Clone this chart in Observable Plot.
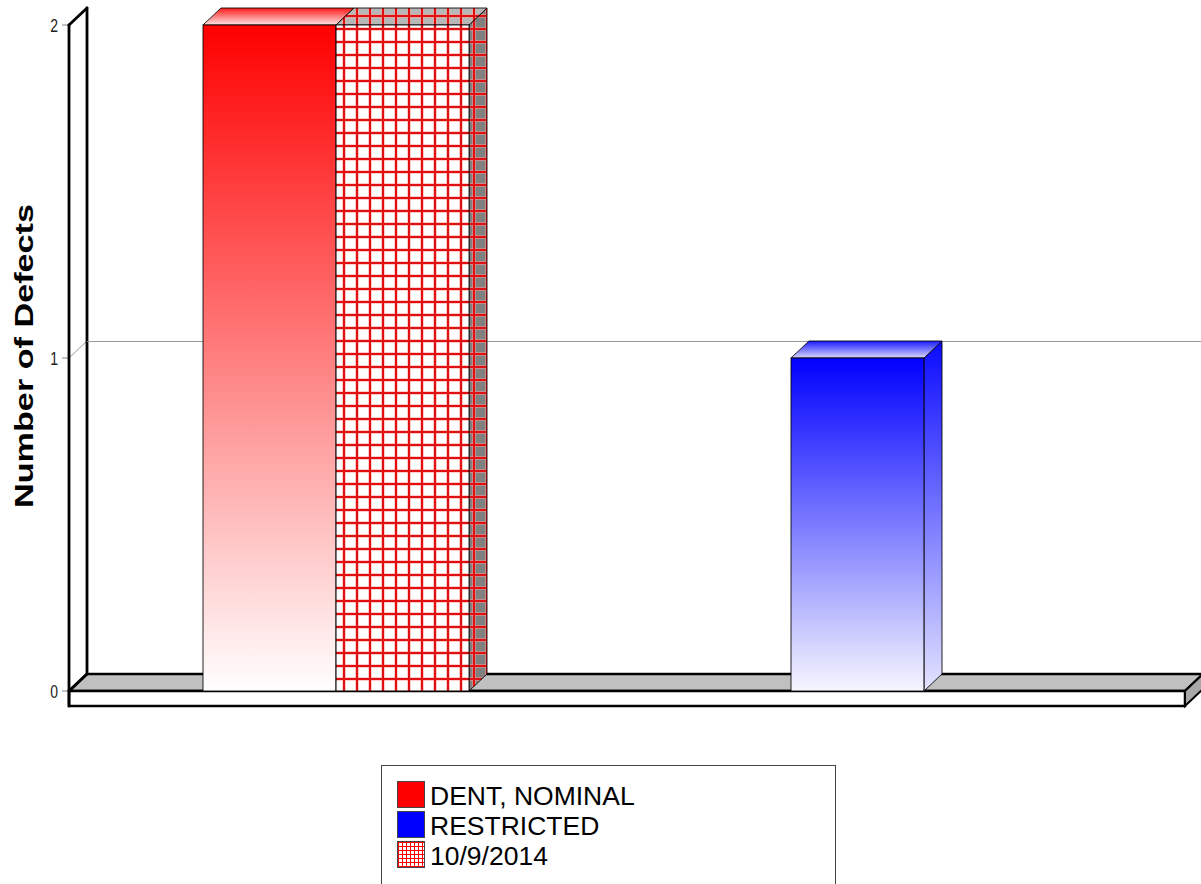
<!DOCTYPE html>
<html>
<head>
<meta charset="utf-8">
<script src="https://cdn.jsdelivr.net/npm/d3@7"></script>
<script src="https://cdn.jsdelivr.net/npm/@observablehq/plot@0.6"></script>
<style>
  html, body { margin: 0; padding: 0; background: #fff; }
  #chart svg { display: block; }
  #legend {
    position: absolute; left: 381px; top: 765px; width: 455px; height: 140px;
    border: 1px solid #444; box-sizing: border-box; background: #fff;
    font-family: "Liberation Sans", Arial, sans-serif; font-size: 26.5px; color: #000;
  }
  .item { position: absolute; left: 15px; height: 26px; }
  .sw { position: absolute; left: 0; top: 0; width: 26px; height: 25px; border: 1px solid #444; }
  .lab { position: absolute; left: 33px; top: 2px; line-height: 26px; white-space: nowrap; }
  .grid {
    background-color: #fff;
    background-image: linear-gradient(#f00 1px, transparent 1px), linear-gradient(90deg, #f00 1px, transparent 1px);
    background-size: 4px 4px;
  }
</style>
</head>
<body>
<div id="chart"></div>
<div id="legend"></div>
<script>
// ---- data ----
const categories = ["DENT, NOMINAL", "RESTRICTED"];
const countValues = [2, 1];
const dateSeriesLabel = "10/9/2014";
const dateValues = [2, 0];
const yTicks = [0, 1, 2];
const yLabel = "Number of Defects";
const legendLabels = ["DENT, NOMINAL", "RESTRICTED", "10/9/2014"];

const rows = categories.map((c, i) => ({category: c, count: countValues[i], date: dateValues[i]}));

// ---- layout / style ----
const W = 1201, H = 760, ML = 69, MR = 16, MT = 25, MB = 69;
const DX = 18, DY = -17;           // 3D depth offset
const PI_ = 0.548, PO_ = 0.2216, AL_ = 0.51;
const bandProbe = d3.scaleBand().domain(categories).range([ML, W - MR]).paddingInner(PI_).paddingOuter(PO_).align(AL_);
const half = bandProbe.bandwidth() / 2;
const yMax = d3.max(yTicks);

const NS = "http://www.w3.org/2000/svg";
function el(name, attrs, parent) {
  const e = document.createElementNS(NS, name);
  for (const k in attrs) e.setAttribute(k, attrs[k]);
  if (parent) parent.appendChild(e);
  return e;
}

// defs: gradients and patterns
function defsMark() {
  const defs = el("defs", {});
  const grad = (id, stops) => {
    const g = el("linearGradient", {id, x1: 0, y1: 0, x2: 0, y2: 1}, defs);
    stops.forEach(([o, c]) => el("stop", {offset: o, "stop-color": c}, g));
  };
  grad("gRed", [[0, "#ff0000"], [1, "#ffffff"]]);
  grad("gRedTop", [[0, "#ff1a1a"], [1, "#ffe6e6"]]);
  grad("gRedSide", [[0, "#e00000"], [1, "#ffe0e0"]]);
  grad("gBlue", [[0, "#0000ff"], [1, "#f6f6ff"]]);
  grad("gBlueTop", [[0, "#1a1aff"], [1, "#d8d8ff"]]);
  grad("gBlueSide", [[0, "#0a0aff"], [1, "#e4e4ff"]]);
  const pat = (id, bg) => {
    const p = el("pattern", {id, patternUnits: "userSpaceOnUse", x: 342, y: 690, width: 13, height: 13}, defs);
    el("rect", {x: 0, y: 0, width: 13, height: 13, fill: bg}, p);
    el("rect", {x: 0, y: 0, width: 4, height: 13, fill: "#ff9a9a", opacity: 0.5}, p);
    el("rect", {x: 0, y: 0, width: 13, height: 4, fill: "#ff9a9a", opacity: 0.5}, p);
    el("rect", {x: 1, y: 0, width: 2, height: 13, fill: "#e01010"}, p);
    el("rect", {x: 0, y: 1, width: 13, height: 2, fill: "#e01010"}, p);
  };
  pat("pFront", "#ffffff");
  pat("pSide", "#808080");
  pat("pTop", "#b8b8b8");
  return defs;
}

// walls, floor, base slab, ticks and tick labels
function wallsMark(index, scales, values, dims) {
  const y = scales.y;
  const g = el("g", {});
  const x0 = dims.marginLeft, x1 = dims.width - dims.marginRight;
  const y0 = y(0), yT = y(yMax), slab = 15;
  el("polygon", {points: `${x0},${yT} ${x0+DX},${yT+DY} ${x0+DX},${y0+DY} ${x0},${y0}`, fill: "#fff"}, g);
  yTicks.filter(t => t > 0 && t < yMax).forEach(t => {
    el("line", {x1: x0, y1: y(t), x2: x0 + DX, y2: y(t) + DY, stroke: "#999", "stroke-width": 1}, g);
  });
  const fmt = d3.format("d");
  yTicks.forEach(t => {
    el("line", {x1: x0 - 7, y1: y(t), x2: x0, y2: y(t), stroke: "#888", "stroke-width": 1}, g);
    const tx = el("text", {transform: `translate(${x0 - 11},${y(t)}) scale(1,1.35)`, "text-anchor": "end",
      dy: "0.35em", "font-family": "Liberation Sans, Arial, sans-serif", "font-size": 14, fill: "#222"}, g);
    tx.textContent = fmt(t);
  });
  el("polygon", {points: `${x0},${y0} ${x0+DX},${y0+DY} ${x1+DX},${y0+DY} ${x1},${y0}`,
    fill: "#c0c0c0", stroke: "#000", "stroke-width": 2.5, "stroke-linejoin": "round"}, g);
  el("rect", {x: x0, y: y0, width: x1 - x0, height: slab, fill: "#fff", stroke: "#000", "stroke-width": 2.5}, g);
  el("polygon", {points: `${x1},${y0} ${x1+DX},${y0+DY} ${x1+DX},${y0+DY+slab} ${x1},${y0+slab}`,
    fill: "#a8a8a8", stroke: "#000", "stroke-width": 2}, g);
  const L = (a, b, c, d) => el("line", {x1: a, y1: b, x2: c, y2: d, stroke: "#000", "stroke-width": 2.8, "stroke-linecap": "round"}, g);
  L(x0, yT, x0, y0 + slab);
  L(x0 + DX, yT + DY, x0 + DX, y0 + DY);
  L(x0, yT, x0 + DX, yT + DY);
  L(x0, y0, x0 + DX, y0 + DY);
  return g;
}

// top and side faces of bars
function facesMark(index, scales) {
  const x = scales.x, y = scales.y;
  const bw = x.bandwidth ? x.bandwidth() : half * 2;
  const h = bw / 2;
  const g = el("g", {});
  const bars = [];
  rows.forEach((r, i) => {
    const l = x(r.category);
    if (r.count > 0) bars.push({l, r: l + h, v: r.count, side: i === 0 ? "url(#gRedSide)" : "url(#gBlueSide)", top: i === 0 ? "url(#gRedTop)" : "url(#gBlueTop)"});
    if (r.date > 0) bars.push({l: l + h, r: l + bw, v: r.date, side: "url(#pSide)", top: "url(#pTop)"});
  });
  bars.sort((a, b) => a.l - b.l);
  bars.forEach(b => {
    const t = y(b.v), bo = y(0);
    el("polygon", {points: `${b.r},${t} ${b.r+DX},${t+DY} ${b.r+DX},${bo+DY} ${b.r},${bo}`,
      fill: b.side, stroke: "#000", "stroke-width": 1, "stroke-opacity": 0.85}, g);
    el("polygon", {points: `${b.l},${t} ${b.l+DX},${t+DY} ${b.r+DX},${t+DY} ${b.r},${t}`,
      fill: b.top, stroke: "#000", "stroke-width": 1, "stroke-opacity": 0.85}, g);
  });
  return g;
}

function labelMark(index, scales, values, dims) {
  const y = scales.y;
  const cy = (y(0) + y(yMax)) / 2 - 2;
  const t = el("text", {transform: `translate(33,${cy}) rotate(-90)`, "text-anchor": "middle",
    "font-family": "Liberation Sans, Arial, sans-serif", "font-weight": "bold", "font-size": 26,
    fill: "#000", textLength: 304, lengthAdjust: "spacingAndGlyphs"});
  t.textContent = yLabel;
  return t;
}

const plot = Plot.plot({
  width: W, height: H,
  marginLeft: ML, marginRight: MR, marginTop: MT, marginBottom: MB,
  style: {fontFamily: "Liberation Sans, Arial, sans-serif", color: "#222", background: "#fff"},
  x: {type: "band", domain: categories, paddingInner: PI_, paddingOuter: PO_, align: AL_, axis: null},
  y: {domain: [0, yMax], axis: null},
  color: {domain: categories, range: ["url(#gRed)", "url(#gBlue)"]},
  marks: [
    defsMark,
    wallsMark,
    Plot.ruleY(yTicks.filter(t => t > 0 && t < yMax), {dx: DX, dy: DY, stroke: "#999", strokeWidth: 1}),
    facesMark,
    Plot.barY(rows.filter(r => r.count > 0), {x: "category", y: "count", fill: "category", insetRight: half,
      stroke: "#000", strokeWidth: 1, strokeOpacity: 0.85}),
    Plot.barY(rows.filter(r => r.date > 0), {x: "category", y: "date", fill: "url(#pFront)", insetLeft: half,
      stroke: "#000", strokeWidth: 1, strokeOpacity: 0.85}),
    labelMark
  ]
});
document.getElementById("chart").appendChild(plot);

// legend
const legend = document.getElementById("legend");
const swStyles = ["background:#ff0000", "background:#0000ff", ""];
legendLabels.forEach((lab, i) => {
  const item = document.createElement("div");
  item.className = "item";
  item.style.top = (15 + 30 * i) + "px";
  const sw = document.createElement("div");
  sw.className = "sw" + (i === 2 ? " grid" : "");
  if (swStyles[i]) sw.setAttribute("style", swStyles[i]);
  const t = document.createElement("div");
  t.className = "lab";
  t.textContent = lab;
  item.appendChild(sw); item.appendChild(t);
  legend.appendChild(item);
});
</script>
</body>
</html>
